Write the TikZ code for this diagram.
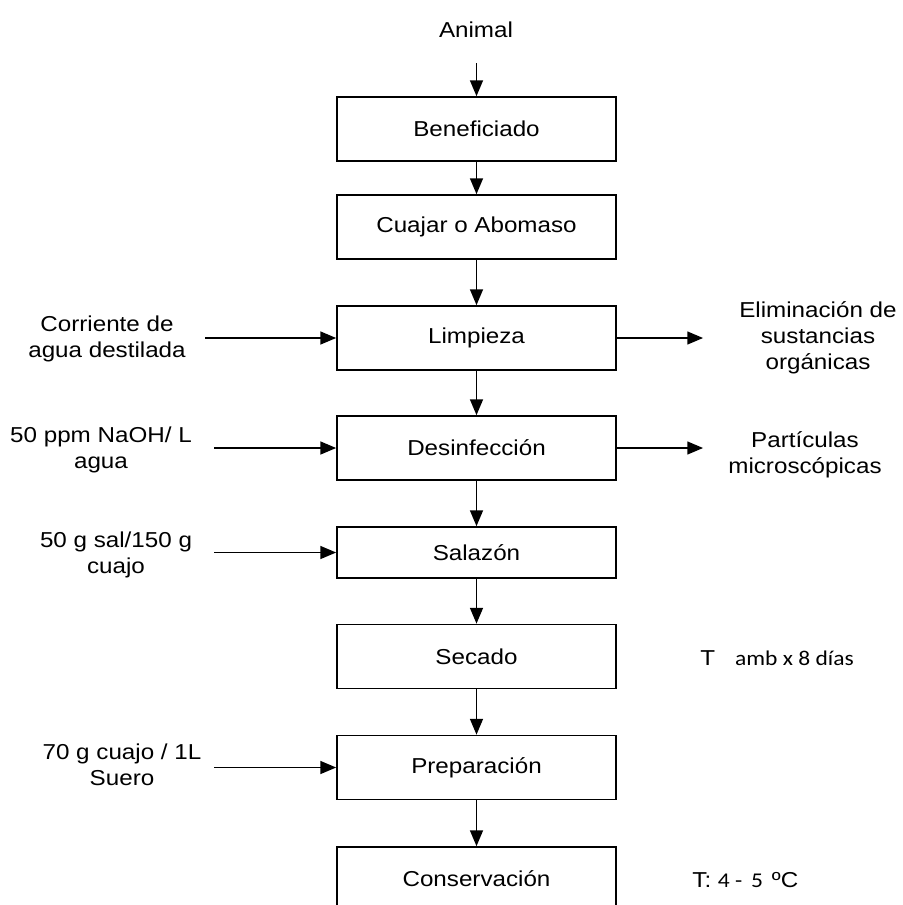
\documentclass[tikz,border=0pt]{standalone}
\usepackage{fontspec}
\setmainfont{Liberation Sans}[FakeStretch=1.12]
\newfontfamily\calib{Carlito}[FakeStretch=1.12]
\usetikzlibrary{arrows, positioning}

\begin{document}
\begin{tikzpicture}[x=0.5pt, y=-0.5pt,
    proc/.style={draw, line width=0.9pt, minimum width=139.5pt, minimum height=32pt, inner sep=0pt, font=\fontsize{10.8}{13}\selectfont},
    side/.style={align=center, inner sep=0pt, font=\fontsize{10.8}{13}\selectfont},
    flow/.style={-triangle 45, line width=0.8pt}]
  \useasboundingbox (0,0) rectangle (903,905);

  % main line
  \node[side] (animal) at (476,30) {Animal};
  \coordinate (animalout) at (476.5,63);
  \node[proc] (benef) at (476.5,129) {Beneficiado};
  \node[proc] (cuajar) at (476.5,227) {Cuajar o Abomaso};
  \node[proc] (limp) at (476.5,338) {Limpieza};
  \node[proc] (desinf) at (476.5,448) {Desinfección};
  \node[proc, minimum height=25.5pt] (salaz) at (476.5,552.5) {Salazón};
  \node[proc] (secado) at (476.5,656.5) {Secado};
  \node[proc] (prep) at (476.5,767.5) {Preparación};
  \node[proc] (conserv) at (476.5,879) {Conservación};

  \draw[flow] (animalout) -- (benef);
  \draw[flow] (benef) -- (cuajar);
  \draw[flow] (cuajar) -- (limp);
  \draw[flow] (limp) -- (desinf);
  \draw[flow] (desinf) -- (salaz);
  \draw[flow] (salaz) -- (secado);
  \draw[flow] (secado) -- (prep);
  \draw[flow] (prep) -- (conserv);

  % inputs
  \node[side] (water) at (107,339) {Corriente de\\agua destilada};
  \node[side] (naoh) at (101,449.5) {50 ppm NaOH/ L\\agua};
  \node[side] (salt) at (116,555) {50 g sal/150 g\\cuajo};
  \node[side] (whey) at (122,764.5) {70 g cuajo / 1L\\Suero};
  \coordinate (waterin) at (205,338);
  \coordinate (naohin) at (214,448);
  \coordinate (saltin) at (214,552.5);
  \coordinate (wheyin) at (214,767.5);
  \draw[flow] (waterin) -- (limp);
  \draw[flow] (naohin) -- (desinf);
  \draw[flow] (saltin) -- (salaz);
  \draw[flow] (wheyin) -- (prep);

  % outputs
  \node[side] (organic) at (818,338) {Eliminación de\\sustancias\\orgánicas};
  \node[side] (partic) at (805,455) {Partículas\\microscópicas};
  \coordinate (organicout) at (703,338);
  \coordinate (particout) at (703,448);
  \draw[flow] (limp) -- (organicout);
  \draw[flow] (desinf) -- (particout);

  % conditions
  \node[side, anchor=west] (dry) at (700,658) {T\hspace{10pt}{\calib\fontsize{10.5}{12}\selectfont amb x 8 días}};
  \node[side, anchor=west] (temp) at (692,880) {T: {\calib\fontsize{10.5}{12}\selectfont 4 - \,5\, }ºC};
\end{tikzpicture}
\end{document}
